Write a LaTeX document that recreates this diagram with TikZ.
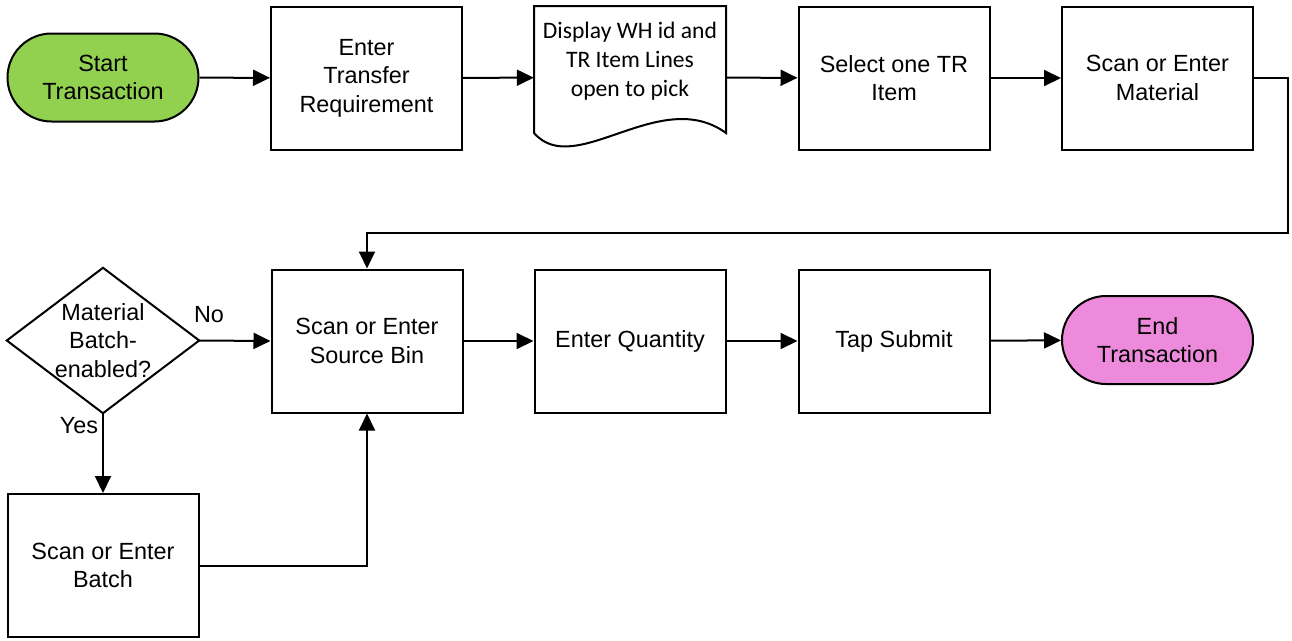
\documentclass[tikz,border=0pt]{standalone}
\usepackage{fontspec}
\setmainfont{Liberation Sans}
\newfontfamily\calibri{Carlito}
\usetikzlibrary{arrows.meta}
\definecolor{startgreen}{HTML}{92D050}
\definecolor{endpink}{HTML}{EE8ADC}
\begin{document}
\begin{tikzpicture}[x=1pt,y=-1pt,
  every node/.style={font=\fontsize{23.4}{28.5}\selectfont, align=center, inner sep=0pt},
  procbox/.style={draw, line width=2pt, minimum width=191pt, minimum height=143pt},
  pill/.style={draw, line width=2pt, minimum width=191pt, minimum height=88pt, rounded corners=44pt},
  shapeline/.style={draw, line width=2pt, line join=miter},
  conn/.style={line width=2pt, -{Triangle[length=17pt,width=16pt]}},
  lbl/.style={font=\fontsize{23.4}{28}\selectfont}
]
\useasboundingbox (0,0) rectangle (1292,640);
% top row
\node[pill, fill=startgreen] (start) at (103,77.5) {Start\\Transaction};
\node[procbox] (req) at (366.5,78) {Enter\\Transfer\\Requirement};
\node[minimum width=192pt, minimum height=143pt] (doc) at (630,77.5) {};
\draw[shapeline] (534,6) -- (534,133) .. controls (575,180) and (660,85) .. (726,133) -- (726,6) -- cycle;
\node[font=\calibri\fontsize{23.6}{29}\selectfont] (doctext) at (630,61) {Display WH id and\\TR Item Lines\\open to pick};
\node[procbox] (sel) at (894,78) {Select one TR\\Item};
\node[procbox] (mat) at (1157.5,78) {Scan or Enter\\Material};
% second row
\node[minimum width=192pt, minimum height=145pt] (dia) at (103,340.5) {Material\\Batch-\\enabled?};
\draw[shapeline] (dia.west) -- (dia.north) -- (dia.east) -- (dia.south) -- cycle;
\node[procbox] (src) at (367,341) {Scan or Enter\\Source Bin};
\node[procbox] (qty) at (630,341) {Enter Quantity};
\node[procbox] (tap) at (894,341) {Tap Submit};
\node[pill, fill=endpink] (end) at (1157.5,340) {End\\Transaction};
% third row
\node[procbox] (batch) at (103,565.5) {Scan or Enter\\Batch};
% connectors
\draw[conn] (start) -- (req);
\draw[conn] (req) -- (doc);
\draw[conn] (doc) -- (sel);
\draw[conn] (sel) -- (mat);
\coordinate (turn) at (1288,233);
\draw[conn] (mat.east) -| (turn) -| (src.north);
\draw[conn] (dia.east) -- (src.west);
\draw[conn] (src) -- (qty);
\draw[conn] (qty) -- (tap);
\draw[conn] (tap) -- (end);
\draw[conn] (dia.south) -- (batch.north);
\draw[conn] (batch.east) -| (src.south);
% labels
\node[lbl] (nolbl) at (209,315) {No};
\node[lbl] (yeslbl) at (79,426) {Yes};
\end{tikzpicture}
\end{document}
